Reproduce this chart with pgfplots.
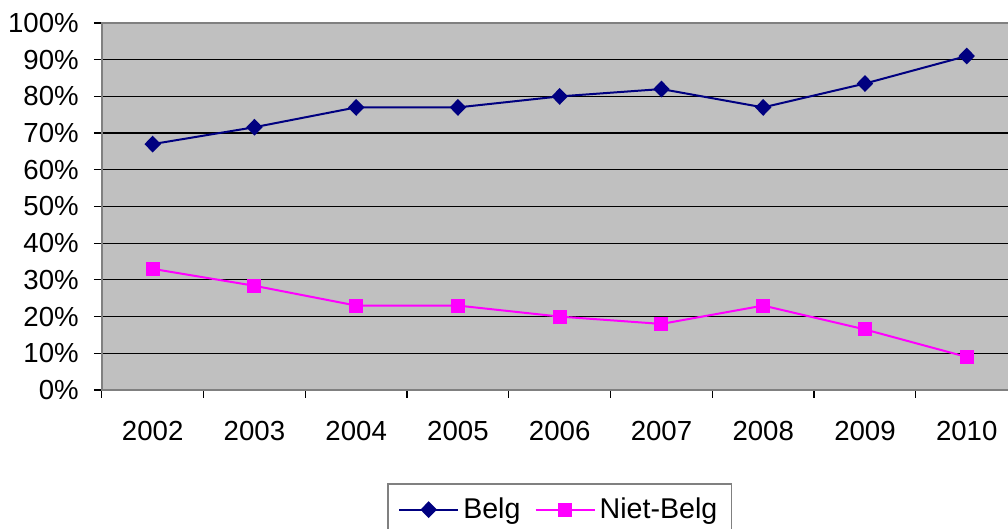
\documentclass[border=0pt]{standalone}
\usepackage{pgfplots}
\pgfplotsset{compat=1.18}
\usepackage{fontspec}
\setmainfont{Liberation Sans}
\definecolor{bgc}{HTML}{C0C0C0}
\definecolor{axc}{HTML}{808080}
\definecolor{belg}{HTML}{000080}
\definecolor{niet}{HTML}{FF00FF}
\begin{document}
\begin{tikzpicture}
\useasboundingbox (0,0) rectangle (504pt,264.5pt);
\begin{axis}[
  at={(50.9pt,69.5pt)}, anchor=south west,
  scale only axis, width=457.9pt, height=183.5pt,
  xmin=-0.5, xmax=8.5, ymin=0, ymax=100,
  axis background/.style={fill=bgc},
  axis line style={axc, line width=1pt},
  xtick={0,...,8},
  xticklabels={2002,2003,2004,2005,2006,2007,2008,2009,2010},
  minor xtick={-0.5,0.5,...,8.5},
  ytick={0,10,...,100},
  xtick pos=bottom, ytick pos=left,
  yticklabel={\pgfmathprintnumber{\tick}\%},
  tick align=outside,
  major x tick style={draw=none},
  major tick length=4pt, minor tick length=4pt,
  every tick/.style={black, line width=0.6pt},
  ymajorgrids, grid style={black, line width=0.6pt},
  tick label style={font=\fontsize{13.8}{16}\selectfont},
  xticklabel style={yshift=-8pt},
  yticklabel style={xshift=-4pt},
  /pgf/number format/assume math mode=true,
  legend style={at={(0.5,-0.2534)}, anchor=north, legend columns=2,
    draw=axc, line width=0.8pt, fill=white,
    font=\fontsize{14.3}{16}\selectfont,
    inner ysep=5pt, inner xsep=5pt,
    /tikz/every even column/.append style={column sep=5pt}},
  legend image code/.code={\draw[mark repeat=2,mark phase=2] plot coordinates {(0cm,0cm) (0.52cm,0cm) (1.04cm,0cm)};},
]
\addplot[belg, line width=1pt, mark=diamond*, mark size=3.5pt, mark options={solid, xscale=1.3}]
coordinates {(0,67) (1,71.6) (2,77) (3,77) (4,80) (5,82) (6,77) (7,83.5) (8,91)};
\addlegendentry{Belg}
\addplot[niet, line width=1pt, mark=square*, mark size=3pt, mark options={solid}]
coordinates {(0,33) (1,28.4) (2,23) (3,23) (4,20) (5,18) (6,23) (7,16.5) (8,9)};
\addlegendentry{Niet-Belg}
\end{axis}
\end{tikzpicture}
\end{document}
